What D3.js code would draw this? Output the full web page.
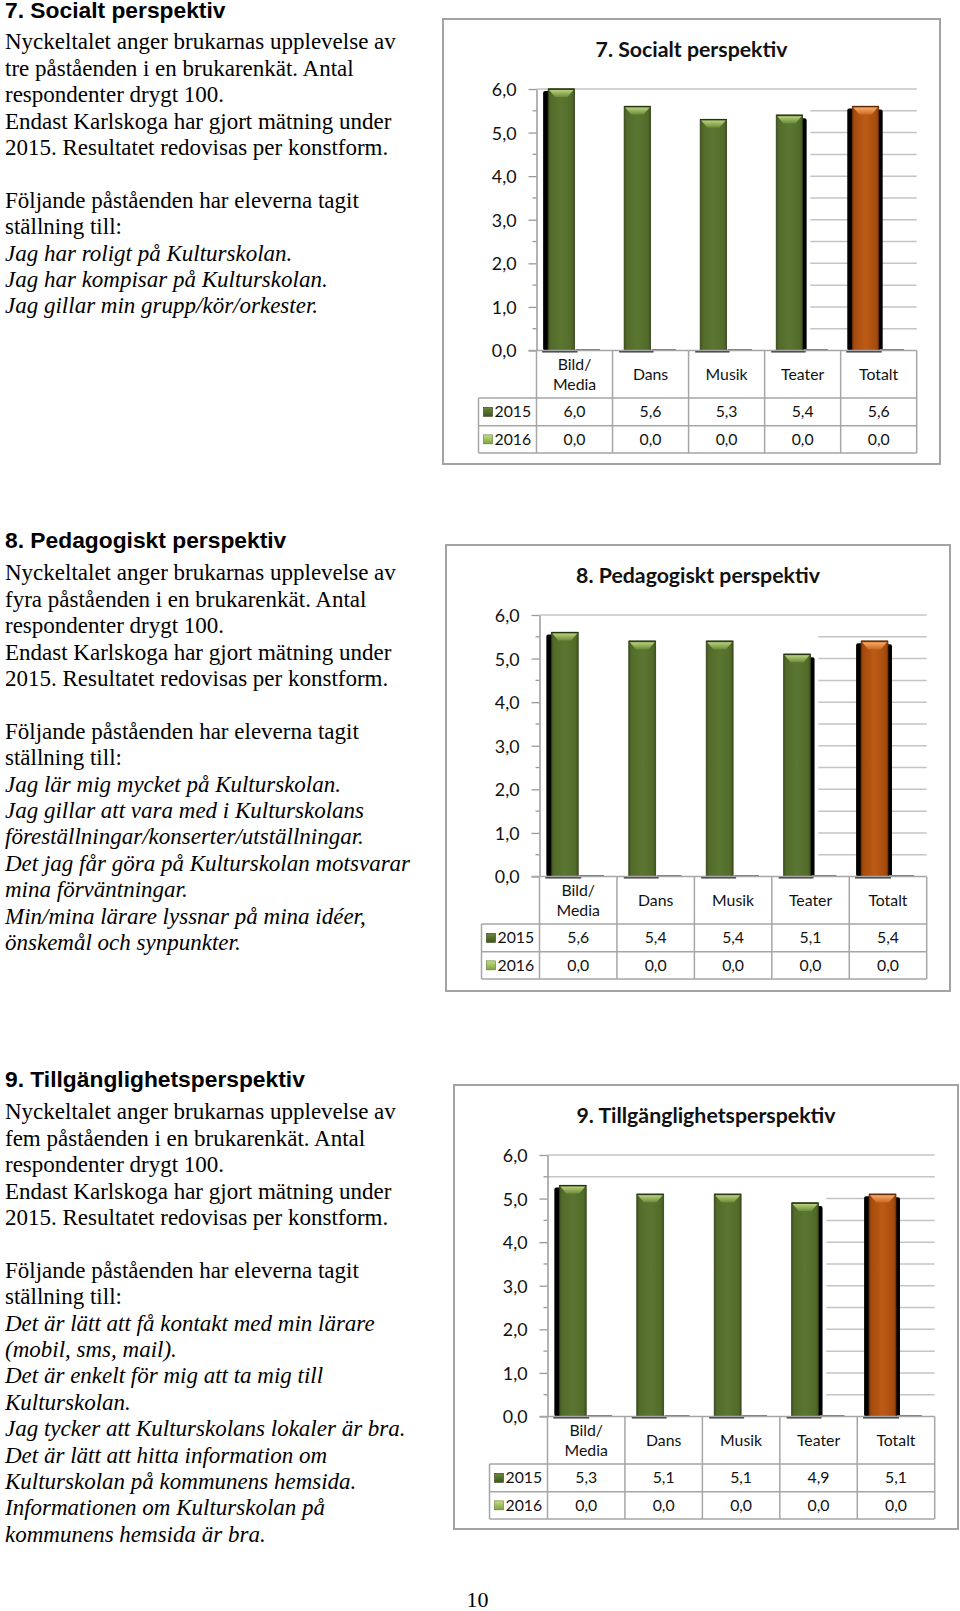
<!DOCTYPE html>
<html><head><meta charset="utf-8">
<script src="https://cdn.jsdelivr.net/npm/d3@7"></script>
<style>body{margin:0;background:#fff}svg{display:block}</style>
</head><body>
<svg id="page" width="960" height="1611"></svg>
<script>
// ---------- data ----------
const categories = ["Bild/Media", "Dans", "Musik", "Teater", "Totalt"];
const seriesNames = ["2015", "2016"];
const yTicks = [0, 1, 2, 3, 4, 5, 6];
const chartTitles = ["7. Socialt perspektiv", "8. Pedagogiskt perspektiv", "9. Tillgänglighetsperspektiv"];
const social2015 = [6.0, 5.6, 5.3, 5.4, 5.6];
const social2016 = [0.0, 0.0, 0.0, 0.0, 0.0];
const pedagogic2015 = [5.6, 5.4, 5.4, 5.1, 5.4];
const pedagogic2016 = [0.0, 0.0, 0.0, 0.0, 0.0];
const access2015 = [5.3, 5.1, 5.1, 4.9, 5.1];
const access2016 = [0.0, 0.0, 0.0, 0.0, 0.0];

// ---------- text ----------
const sections = [
  { heading: "7. Socialt perspektiv",
    body: ["Nyckeltalet anger brukarnas upplevelse av", "tre påståenden i en brukarenkät. Antal", "respondenter drygt 100.", "Endast Karlskoga har gjort mätning under", "2015. Resultatet redovisas per konstform.", "", "Följande påståenden har eleverna tagit", "ställning till:"],
    italic: ["Jag har roligt på Kulturskolan.", "Jag har kompisar på Kulturskolan.", "Jag gillar min grupp/kör/orkester."] },
  { heading: "8. Pedagogiskt perspektiv",
    body: ["Nyckeltalet anger brukarnas upplevelse av", "fyra påståenden i en brukarenkät. Antal", "respondenter drygt 100.", "Endast Karlskoga har gjort mätning under", "2015. Resultatet redovisas per konstform.", "", "Följande påståenden har eleverna tagit", "ställning till:"],
    italic: ["Jag lär mig mycket på Kulturskolan.", "Jag gillar att vara med i Kulturskolans", "föreställningar/konserter/utställningar.", "Det jag får göra på Kulturskolan motsvarar", "mina förväntningar.", "Min/mina lärare lyssnar på mina idéer,", "önskemål och synpunkter."] },
  { heading: "9. Tillgänglighetsperspektiv",
    body: ["Nyckeltalet anger brukarnas upplevelse av", "fem påståenden i en brukarenkät. Antal", "respondenter drygt 100.", "Endast Karlskoga har gjort mätning under", "2015. Resultatet redovisas per konstform.", "", "Följande påståenden har eleverna tagit", "ställning till:"],
    italic: ["Det är lätt att få kontakt med min lärare", "(mobil, sms, mail).", "Det är enkelt för mig att ta mig till", "Kulturskolan.", "Jag tycker att Kulturskolans lokaler är bra.", "Det är lätt att hitta information om", "Kulturskolan på kommunens hemsida.", "Informationen om Kulturskolan på", "kommunens hemsida är bra."] }
];

// ---------- layout (style only) ----------
const sectionTops = [17.5, 547.7, 1086.7];
const chartBoxes = [
  { x: 443, y: 19, w: 497, h: 445 },
  { x: 446, y: 545, w: 504, h: 446 },
  { x: 454, y: 1085, w: 504, h: 444 }
];
const chartData = [[social2015, social2016], [pedagogic2015, pedagogic2016], [access2015, access2016]];
const shadowSides = ["l", "", "", "r", "lr"];

const svg = d3.select("#page");
const sv = d3.formatLocale({ decimal: ",", thousands: " ", grouping: [3], currency: ["", " kr"] });
const fmt = sv.format(".1f");

// gradients
const defs = svg.append("defs");
function hGrad(id, stops) {
  const g = defs.append("linearGradient").attr("id", id).attr("x1", "0").attr("x2", "1").attr("y1", "0").attr("y2", "0");
  stops.forEach(s => g.append("stop").attr("offset", s[0]).attr("stop-color", s[1]));
}
function vGrad(id, stops) {
  const g = defs.append("linearGradient").attr("id", id).attr("x1", "0").attr("x2", "0").attr("y1", "0").attr("y2", "1");
  stops.forEach(s => g.append("stop").attr("offset", s[0]).attr("stop-color", s[1]));
}
hGrad("gBody", [[0, "#3e531e"], [0.1, "#526b2a"], [0.5, "#5b7631"], [0.9, "#526b2a"], [1, "#3e531e"]]);
hGrad("oBody", [[0, "#8a3c08"], [0.1, "#a84c0e"], [0.5, "#bb5b15"], [0.9, "#a84c0e"], [1, "#8a3c08"]]);
vGrad("gCap", [[0, "#b8d27e"], [1, "#6f8c3a"]]);
vGrad("oCap", [[0, "#f6ab6a"], [1, "#cf6a20"]]);
vGrad("legDark", [[0, "#6d8a3a"], [1, "#3e5520"]]);
vGrad("legLight", [[0, "#c4dc86"], [1, "#7fa23e"]]);

// ---------- left text ----------
sections.forEach((s, i) => {
  const top = sectionTops[i];
  const g = svg.append("g");
  g.append("text").attr("x", 5).attr("y", top)
    .style("font-family", "'Liberation Sans', Arial, sans-serif").style("font-weight", "bold")
    .style("font-size", "22.8px").attr("fill", "#000").text(s.heading);
  const lines = s.body.map(t => ({ t, it: false })).concat(s.italic.map(t => ({ t, it: true })));
  g.selectAll("text.body").data(lines).enter().append("text").attr("class", "body")
    .attr("x", 5).attr("y", (d, j) => sectionTops[i] + (i === 0 ? -0.8 : 0) + 32.6 + j * 26.4)
    .style("font-family", "'Liberation Serif', 'Times New Roman', serif")
    .style("font-size", "23px").style("font-style", d => d.it ? "italic" : "normal")
    .attr("fill", "#000").text(d => d.t);
});

svg.append("text").attr("x", 466.5).attr("y", 1606.5)
  .style("font-family", "'Liberation Serif', 'Times New Roman', serif").style("font-size", "22px")
  .attr("fill", "#000").text("10");

// ---------- charts ----------
function drawChart(box, title, vals) {
  const g = svg.append("g").attr("transform", `translate(${box.x},${box.y})`);
  const axisX = 93.5, right = box.w - 23.3;
  const yTop = 70, yBase = 331.5;
  const legendX = 35.5, hdrB = 379, r1B = 406.7, r2B = 434;
  const font = "Lato, 'Open Sans', sans-serif";

  g.append("rect").attr("x", 0).attr("y", 0).attr("width", box.w).attr("height", box.h)
    .attr("fill", "#fff").attr("stroke", "#a3a3a3").attr("stroke-width", 2);

  g.append("text").attr("x", box.w / 2).attr("y", 37.5).attr("text-anchor", "middle")
    .style("font-family", font).style("font-weight", "bold").style("font-size", "21.3px")
    .attr("fill", "#111").text(title);

  const x = d3.scaleBand().domain(categories).range([axisX, right]).padding(0);
  const xs = d3.scaleBand().domain(seriesNames).range([0, x.bandwidth()]).paddingInner(0).paddingOuter(0.44);
  const y = d3.scaleLinear().domain([0, 6]).range([yBase, yTop]);
  const maxV = d3.max(vals[0]);

  // gridlines
  const partialStart = x("Teater") + x.bandwidth() * 0.6;
  const grid = y.ticks(12).filter(v => v > 0);
  g.append("g").selectAll("line").data(grid).enter().append("line")
    .attr("x1", v => v >= maxV ? axisX : partialStart).attr("x2", right)
    .attr("y1", v => y(v)).attr("y2", v => y(v))
    .attr("stroke", "#c4c4c4").attr("stroke-width", 1.5);

  // minor ticks
  g.append("g").selectAll("line").data(grid.filter(v => !yTicks.includes(v))).enter().append("line")
    .attr("x1", axisX - 4).attr("x2", axisX).attr("y1", v => y(v)).attr("y2", v => y(v))
    .attr("stroke", "#9a9a9a").attr("stroke-width", 1.3);

  // axis
  const ax = g.append("g").attr("transform", `translate(${axisX},0)`)
    .call(d3.axisLeft(y).tickValues(yTicks).tickFormat(fmt).tickSize(8).tickSizeOuter(0).tickPadding(12));
  ax.select(".domain").attr("stroke", "#9a9a9a").attr("stroke-width", 1.5);
  ax.selectAll(".tick line").attr("stroke", "#9a9a9a").attr("stroke-width", 1.3);
  ax.selectAll(".tick text").style("font-family", font).style("font-size", "17.8px").attr("fill", "#111").attr("dy", "0.36em");

  // bars
  const bw = xs.bandwidth();
  categories.forEach((c, i) => {
    const isTot = c === "Totalt";
    const v = vals[0][i];
    const x0 = x(c) + xs("2015");
    const top = y(v);
    const bg = g.append("g");
    const sides = shadowSides[i];
    if (sides.includes("l")) bg.append("rect").attr("x", x0 - 5).attr("y", top + 2).attr("width", 7).attr("height", yBase - top - 2).attr("rx", 2).attr("fill", "#000");
    if (sides.includes("r")) bg.append("rect").attr("x", x0 + bw - 2).attr("y", top + 3).attr("width", 6).attr("height", yBase - top - 3).attr("rx", 2).attr("fill", "#000");
    bg.append("line").attr("x1", x0 - (sides.includes("l") ? 6 : 5)).attr("x2", x0 + bw + 3)
      .attr("y1", yBase + 1).attr("y2", yBase + 1).attr("stroke", "#333").attr("stroke-width", 2);
    bg.append("rect").attr("x", x0).attr("y", top).attr("width", bw).attr("height", yBase - top)
      .attr("fill", isTot ? "url(#oBody)" : "url(#gBody)")
      .attr("stroke", isTot ? "#6e3006" : "#2f3f15").attr("stroke-width", 0.8);
    bg.append("polygon")
      .attr("points", `${x0 + 1},${top + 1} ${x0 + bw - 1},${top + 1} ${x0 + bw - 7},${top + 8} ${x0 + 7},${top + 8}`)
      .attr("fill", isTot ? "url(#oCap)" : "url(#gCap)");
    bg.append("line").attr("x1", x0).attr("x2", x0 + bw).attr("y1", top).attr("y2", top)
      .attr("stroke", isTot ? "#5a2704" : "#26330f").attr("stroke-width", 1.2);
    // 2016 bar (zero height)
    const v2 = vals[1][i];
    const x1 = x(c) + xs("2016");
    bg.append("rect").attr("x", x1 + 1).attr("y", y(v2) - 1.5).attr("width", bw - 2).attr("height", Math.max(2, yBase - y(v2)))
      .attr("fill", "#7a7a7a");
  });

  // table lines
  const tl = g.append("g").attr("stroke", "#a6a6a6").attr("stroke-width", 1.5);
  tl.append("line").attr("x1", axisX - 8).attr("x2", right).attr("y1", yBase).attr("y2", yBase);
  [hdrB, r1B, r2B].forEach(yy => tl.append("line").attr("x1", legendX).attr("x2", right).attr("y1", yy).attr("y2", yy));
  tl.append("line").attr("x1", legendX).attr("x2", legendX).attr("y1", hdrB).attr("y2", r2B);
  categories.map(c => x(c)).concat([right]).forEach(xx =>
    tl.append("line").attr("x1", xx).attr("x2", xx).attr("y1", yBase).attr("y2", r2B));

  const tFont = "15.8px";
  // header labels
  categories.forEach(c => {
    const k = c.indexOf("/");
    const lines = k >= 0 ? [c.slice(0, k + 1), c.slice(k + 1)] : [c];
    const cx = x(c) + x.bandwidth() / 2, cy = (yBase + hdrB) / 2;
    lines.forEach((t, j) => {
      g.append("text").attr("x", cx).attr("y", cy + (j - (lines.length - 1) / 2) * 20).attr("dy", "0.35em")
        .attr("text-anchor", "middle").style("font-family", font).style("font-size", tFont).attr("fill", "#111").text(t);
    });
  });

  // rows
  const rowMid = [(hdrB + r1B) / 2, (r1B + r2B) / 2];
  seriesNames.forEach((s, si) => {
    const cy = rowMid[si];
    g.append("rect").attr("x", legendX + 5).attr("y", cy - 4.5).attr("width", 9).attr("height", 9)
      .attr("fill", si === 0 ? "url(#legDark)" : "url(#legLight)").attr("stroke", si === 0 ? "#2f3f15" : "#5d7d2a").attr("stroke-width", 0.6);
    g.append("text").attr("x", legendX + 16).attr("y", cy).attr("dy", "0.35em")
      .style("font-family", font).style("font-size", tFont).attr("fill", "#111").text(s);
    categories.forEach((c, i) => {
      g.append("text").attr("x", x(c) + x.bandwidth() / 2).attr("y", cy).attr("dy", "0.35em")
        .attr("text-anchor", "middle").style("font-family", font).style("font-size", tFont).attr("fill", "#111")
        .text(fmt(vals[si][i]));
    });
  });
}

chartBoxes.forEach((b, i) => drawChart(b, chartTitles[i], chartData[i]));
</script>
</body></html>
